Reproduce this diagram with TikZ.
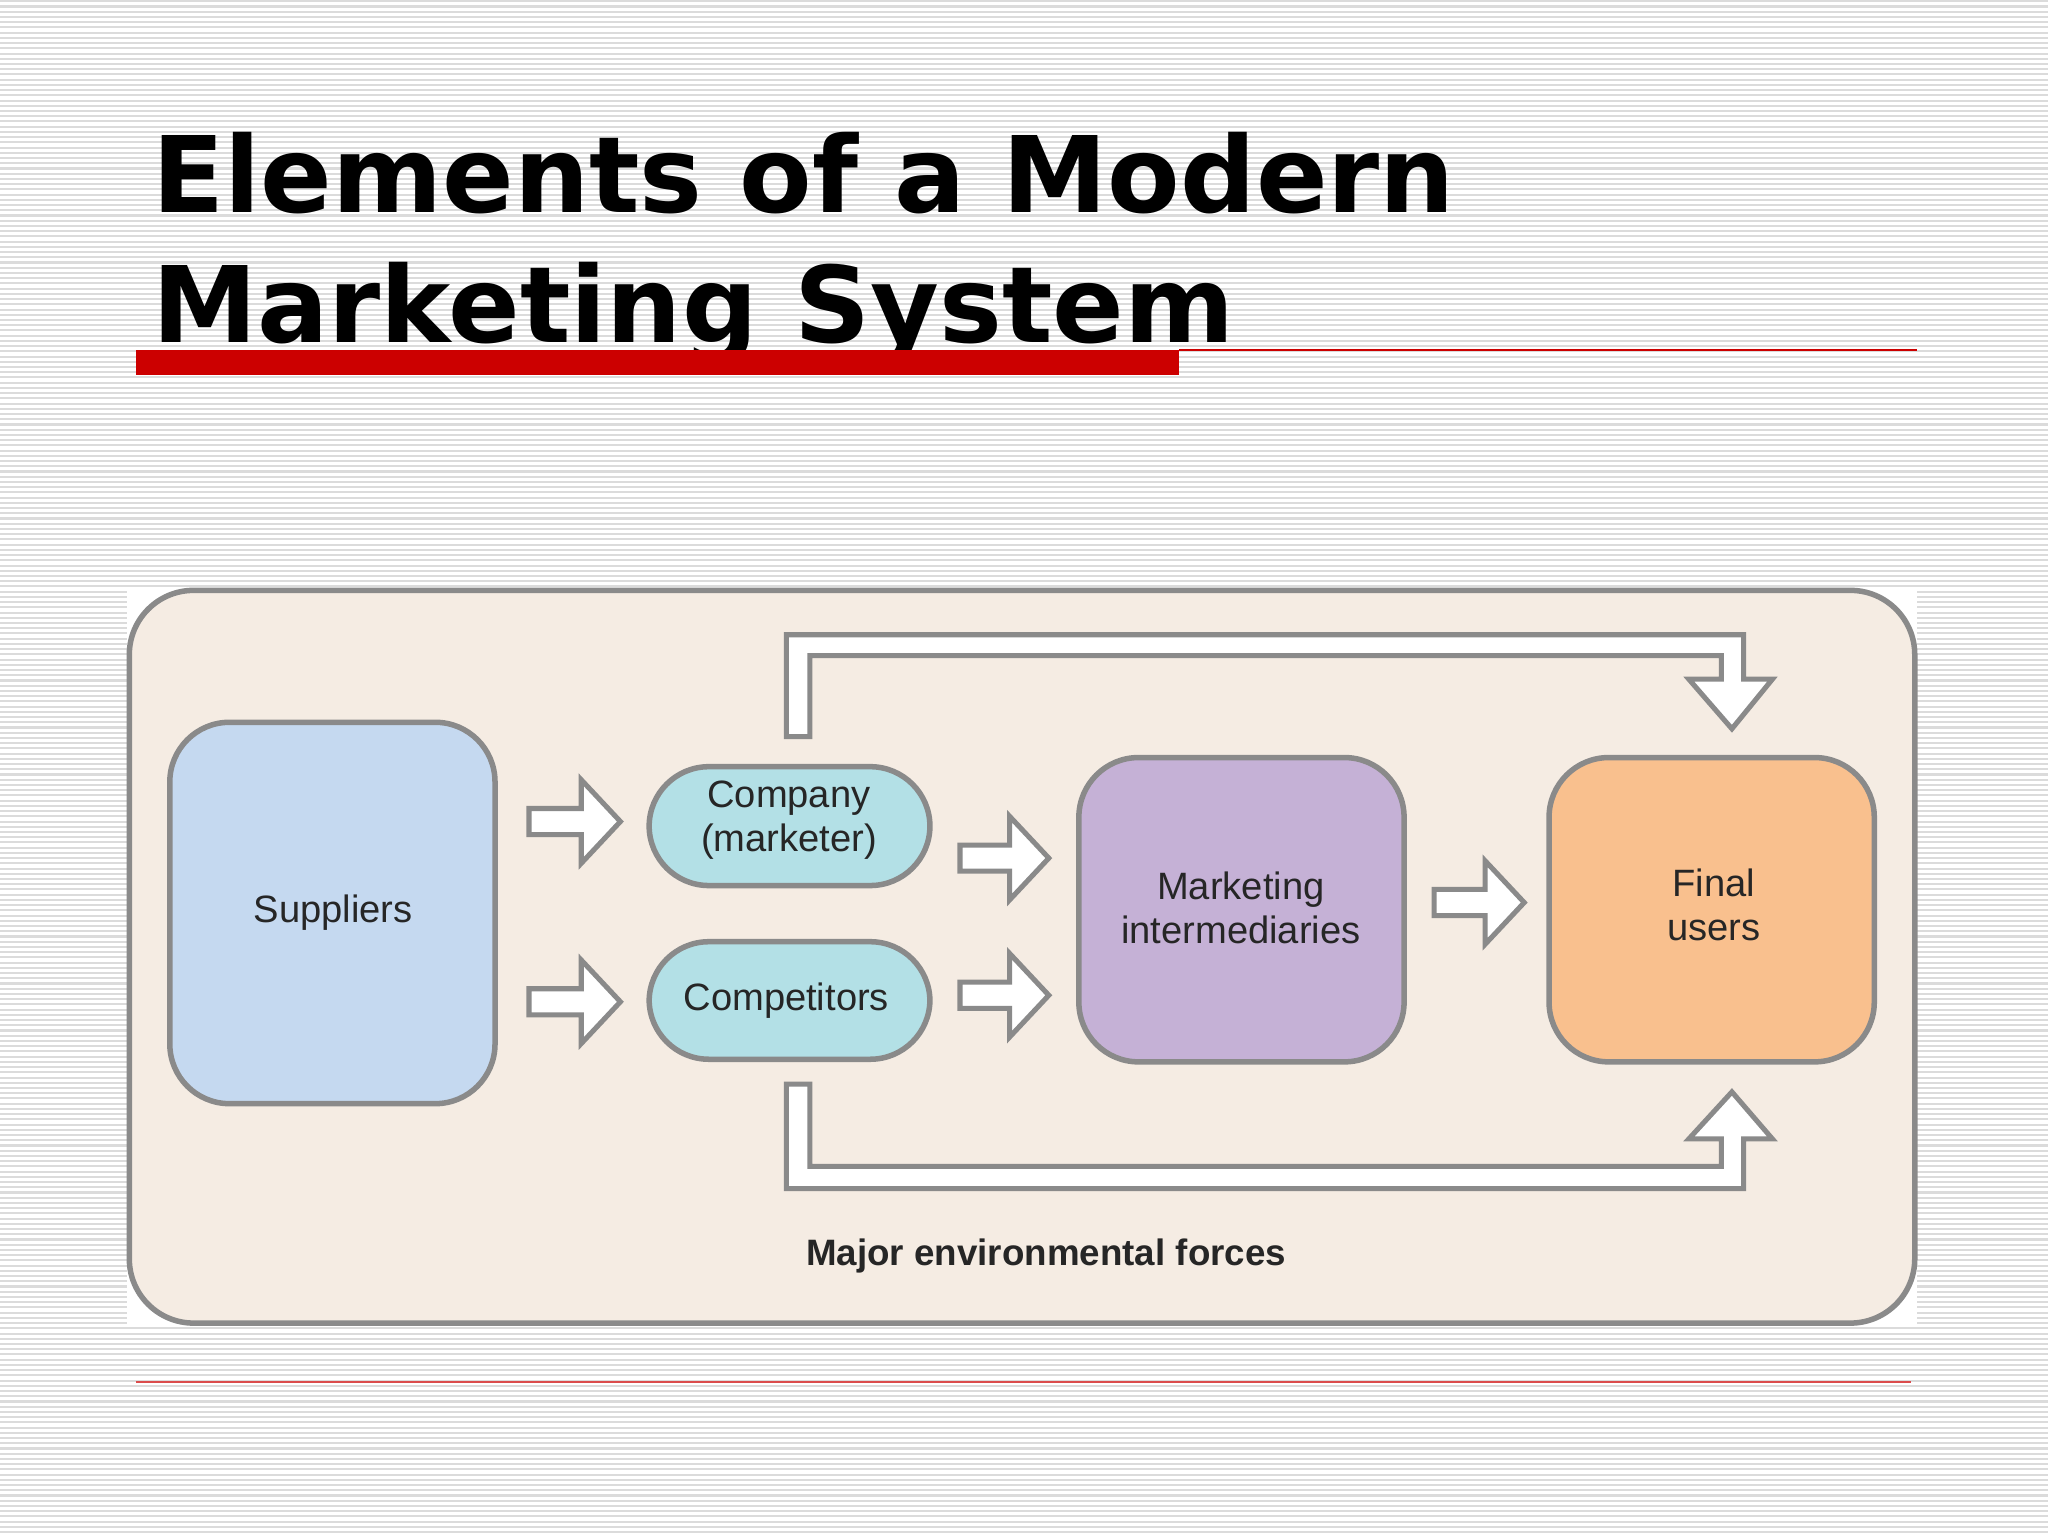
\documentclass[tikz,border=0pt]{standalone}
\usepackage{fontspec}
\setmainfont{Liberation Sans}
\newfontfamily\titlefont{DejaVu Sans}
\definecolor{beige}{HTML}{F5ECE3}
\definecolor{supc}{HTML}{C5D9F0}
\definecolor{compc}{HTML}{B3E0E6}
\definecolor{midc}{HTML}{C5B1D6}
\definecolor{finc}{HTML}{F9C08E}
\definecolor{redc}{HTML}{CC0000}
\definecolor{edge}{HTML}{8A8A8A}
\tikzset{
  box/.style={draw=edge,line width=1.2pt,rounded corners=13pt},
  lbl/.style={font=\fontsize{8.3}{9.5}\selectfont,align=center,text=black!85},
  hollow/.style={draw=edge,fill=white,line width=1.1pt,line join=miter},
}
\newcommand\harrow[3]{% x0 x1 y
  \draw[hollow] (#1,#3-10) -- (#2-30,#3-10) -- (#2-30,#3-32) -- (#2,#3) -- (#2-30,#3+32) -- (#2-30,#3+10) -- (#1,#3+10) -- cycle;}
\begin{document}
\begin{tikzpicture}[x=0.01cm,y=-0.01cm]
\useasboundingbox (0,0) rectangle (1568,1176);
\fill[white] (0,0) rectangle (1568,1176);
\foreach \yy in {1,5,...,1176} \draw[black!14,line width=0.45pt] (0,\yy) -- (1568,\yy);
% title
\node[anchor=base west,inner sep=0,font=\titlefont\bfseries\fontsize{23}{27}\selectfont] (t1) at (116,163) {Elements of a Modern};
\node[anchor=base west,inner sep=0,font=\titlefont\bfseries\fontsize{23}{27}\selectfont] (t2) at (116,262) {Marketing System};
\fill[redc] (104,268) rectangle (903,287);
\draw[redc,line width=0.4pt] (903,268) -- (1468,268);
\draw[redc!70,line width=0.4pt] (104,1058) -- (1463,1058);
% panel
\fill[white] (97,450) rectangle (1468,1015);
\draw[box,fill=beige,rounded corners=14pt] (99,452) rectangle (1466,1013);
\draw[box,fill=supc] (130,553) rectangle (379,845);
\node[lbl] (sup) at (255,699) {Suppliers};
\draw[box,fill=compc,rounded corners=13pt] (497,587) rectangle (712,678);
\node[lbl] (comp) at (604,628) {Company\\(marketer)};
\draw[box,fill=compc,rounded corners=13pt] (497,721) rectangle (712,811);
\node[lbl] (cpt) at (602,766) {Competitors};
\draw[box,fill=midc] (826,580) rectangle (1075,813);
\node[lbl] (mid) at (950,695) {Marketing\\intermediaries};
\draw[box,fill=finc] (1186,580) rectangle (1435,813);
\node[lbl] (fin) at (1312,693) {Final\\users};
% arrows
\harrow{405}{475}{629}
\harrow{405}{475}{767}
\harrow{735}{803}{657}
\harrow{735}{803}{762}
\harrow{1098}{1167}{691}
\draw[hollow] (602,564) -- (602,486) -- (1335,486) -- (1335,520) -- (1357,520) -- (1326,558) -- (1293,520) -- (1318,520) -- (1318,502) -- (620,502) -- (620,564) -- cycle;
\draw[hollow] (602,830) -- (602,910) -- (1335,910) -- (1335,872) -- (1357,872) -- (1326,836) -- (1293,872) -- (1318,872) -- (1318,893) -- (620,893) -- (620,830) -- cycle;
\node[lbl,font=\bfseries\fontsize{8}{9}\selectfont] (env) at (801,962) {Major environmental forces};
\end{tikzpicture}
\end{document}
